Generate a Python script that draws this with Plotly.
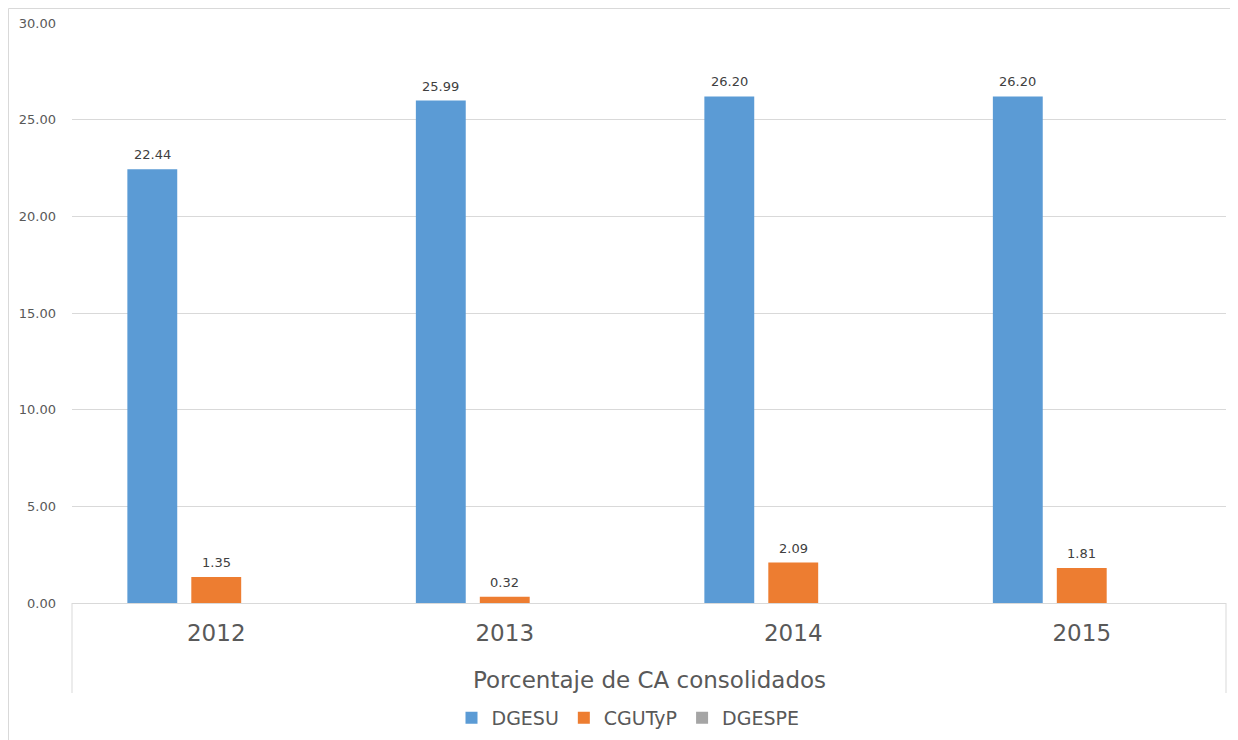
import plotly.graph_objects as go

years = ["2012", "2013", "2014", "2015"]
dgesu = [22.44, 25.99, 26.20, 26.20]
cgutyp = [1.35, 0.32, 2.09, 1.81]
dgespe = [0, 0, 0, 0]
y_ticks = [0, 5, 10, 15, 20, 25, 30]

series = [("DGESU", dgesu, "#5B9BD5"), ("CGUTyP", cgutyp, "#ED7D31"), ("DGESPE", dgespe, "#A5A5A5")]

FONT = "DejaVu Sans, sans-serif"
BARGAP, GROUPGAP = 0.335, 0.22

fig = go.Figure()
for name, vals, col in series:
    fig.add_trace(go.Bar(x=years, y=vals, name=name, marker=dict(color=col, line=dict(width=0))))

# data labels placed above each bar (category index + group offset)
n = len(series)
slot = (1 - BARGAP) / n
for i, (name, vals, col) in enumerate(series):
    for k, v in enumerate(vals):
        if not v:
            continue
        fig.add_annotation(x=k - (1 - BARGAP) / 2 + slot * (i + 0.5), y=v, xref="x", yref="y",
                           text=f"{v:.2f}", showarrow=False, yanchor="bottom", yshift=5,
                           font=dict(size=13, color="#404040", family=FONT))

# page body has an 8px margin: work in page coords then offset
OFF = 8
W, H = 1238 - OFF, 740 - OFF
PL, PR, PT, PB = 72, 1226, 23, 603          # plot area in page coords
L, R, T, B = PL - OFF, W - (PR - OFF), PT - OFF, H - (PB - OFF)
pw, ph = W - L - R, H - T - B


def py(page_y):
    return (PB - page_y) / ph


def px(page_x):
    return (page_x - PL) / pw


fig.update_layout(
    width=W, height=H, margin=dict(l=L, r=R, t=T, b=B, autoexpand=False),
    paper_bgcolor="white", plot_bgcolor="white",
    barmode="group", bargap=BARGAP, bargroupgap=GROUPGAP,
    font=dict(family=FONT, color="#595959"),
    showlegend=True,
    legend=dict(orientation="h", x=px(628), xanchor="center", y=py(718), yanchor="middle",
                font=dict(size=19, color="#595959"), itemwidth=30, traceorder="normal"),
    xaxis=dict(showgrid=False, showline=False, ticks="", tickfont=dict(size=23, color="#595959"),
               ticklabelstandoff=14, range=[-0.5, 3.5]),
    yaxis=dict(range=[0, 30], tickvals=y_ticks, tickformat=".2f", showgrid=True, gridcolor="#D9D9D9",
               gridwidth=1, zeroline=True, zerolinecolor="#D9D9D9", zerolinewidth=1, showline=False,
               tickfont=dict(size=13, color="#595959"), ticklabelstandoff=15),
)

# category axis side lines (Excel style)
for xp in [0, 1]:
    fig.add_shape(type="line", xref="paper", yref="paper", x0=xp, x1=xp, y0=0, y1=py(693),
                  line=dict(color="#D9D9D9", width=1))
# chart border
fig.add_shape(type="rect", xref="paper", yref="paper",
              x0=px(OFF + 0.5), x1=px(1245), y0=py(750), y1=py(OFF + 0.5),
              line=dict(color="#D9D9D9", width=1), fillcolor="rgba(0,0,0,0)", layer="below")

fig.add_annotation(text="Porcentaje de CA consolidados", xref="paper", yref="paper", x=px(649),
                   y=py(680), showarrow=False, xanchor="center", yanchor="middle",
                   font=dict(size=23, color="#595959", family=FONT))

fig.write_html("out.html")
